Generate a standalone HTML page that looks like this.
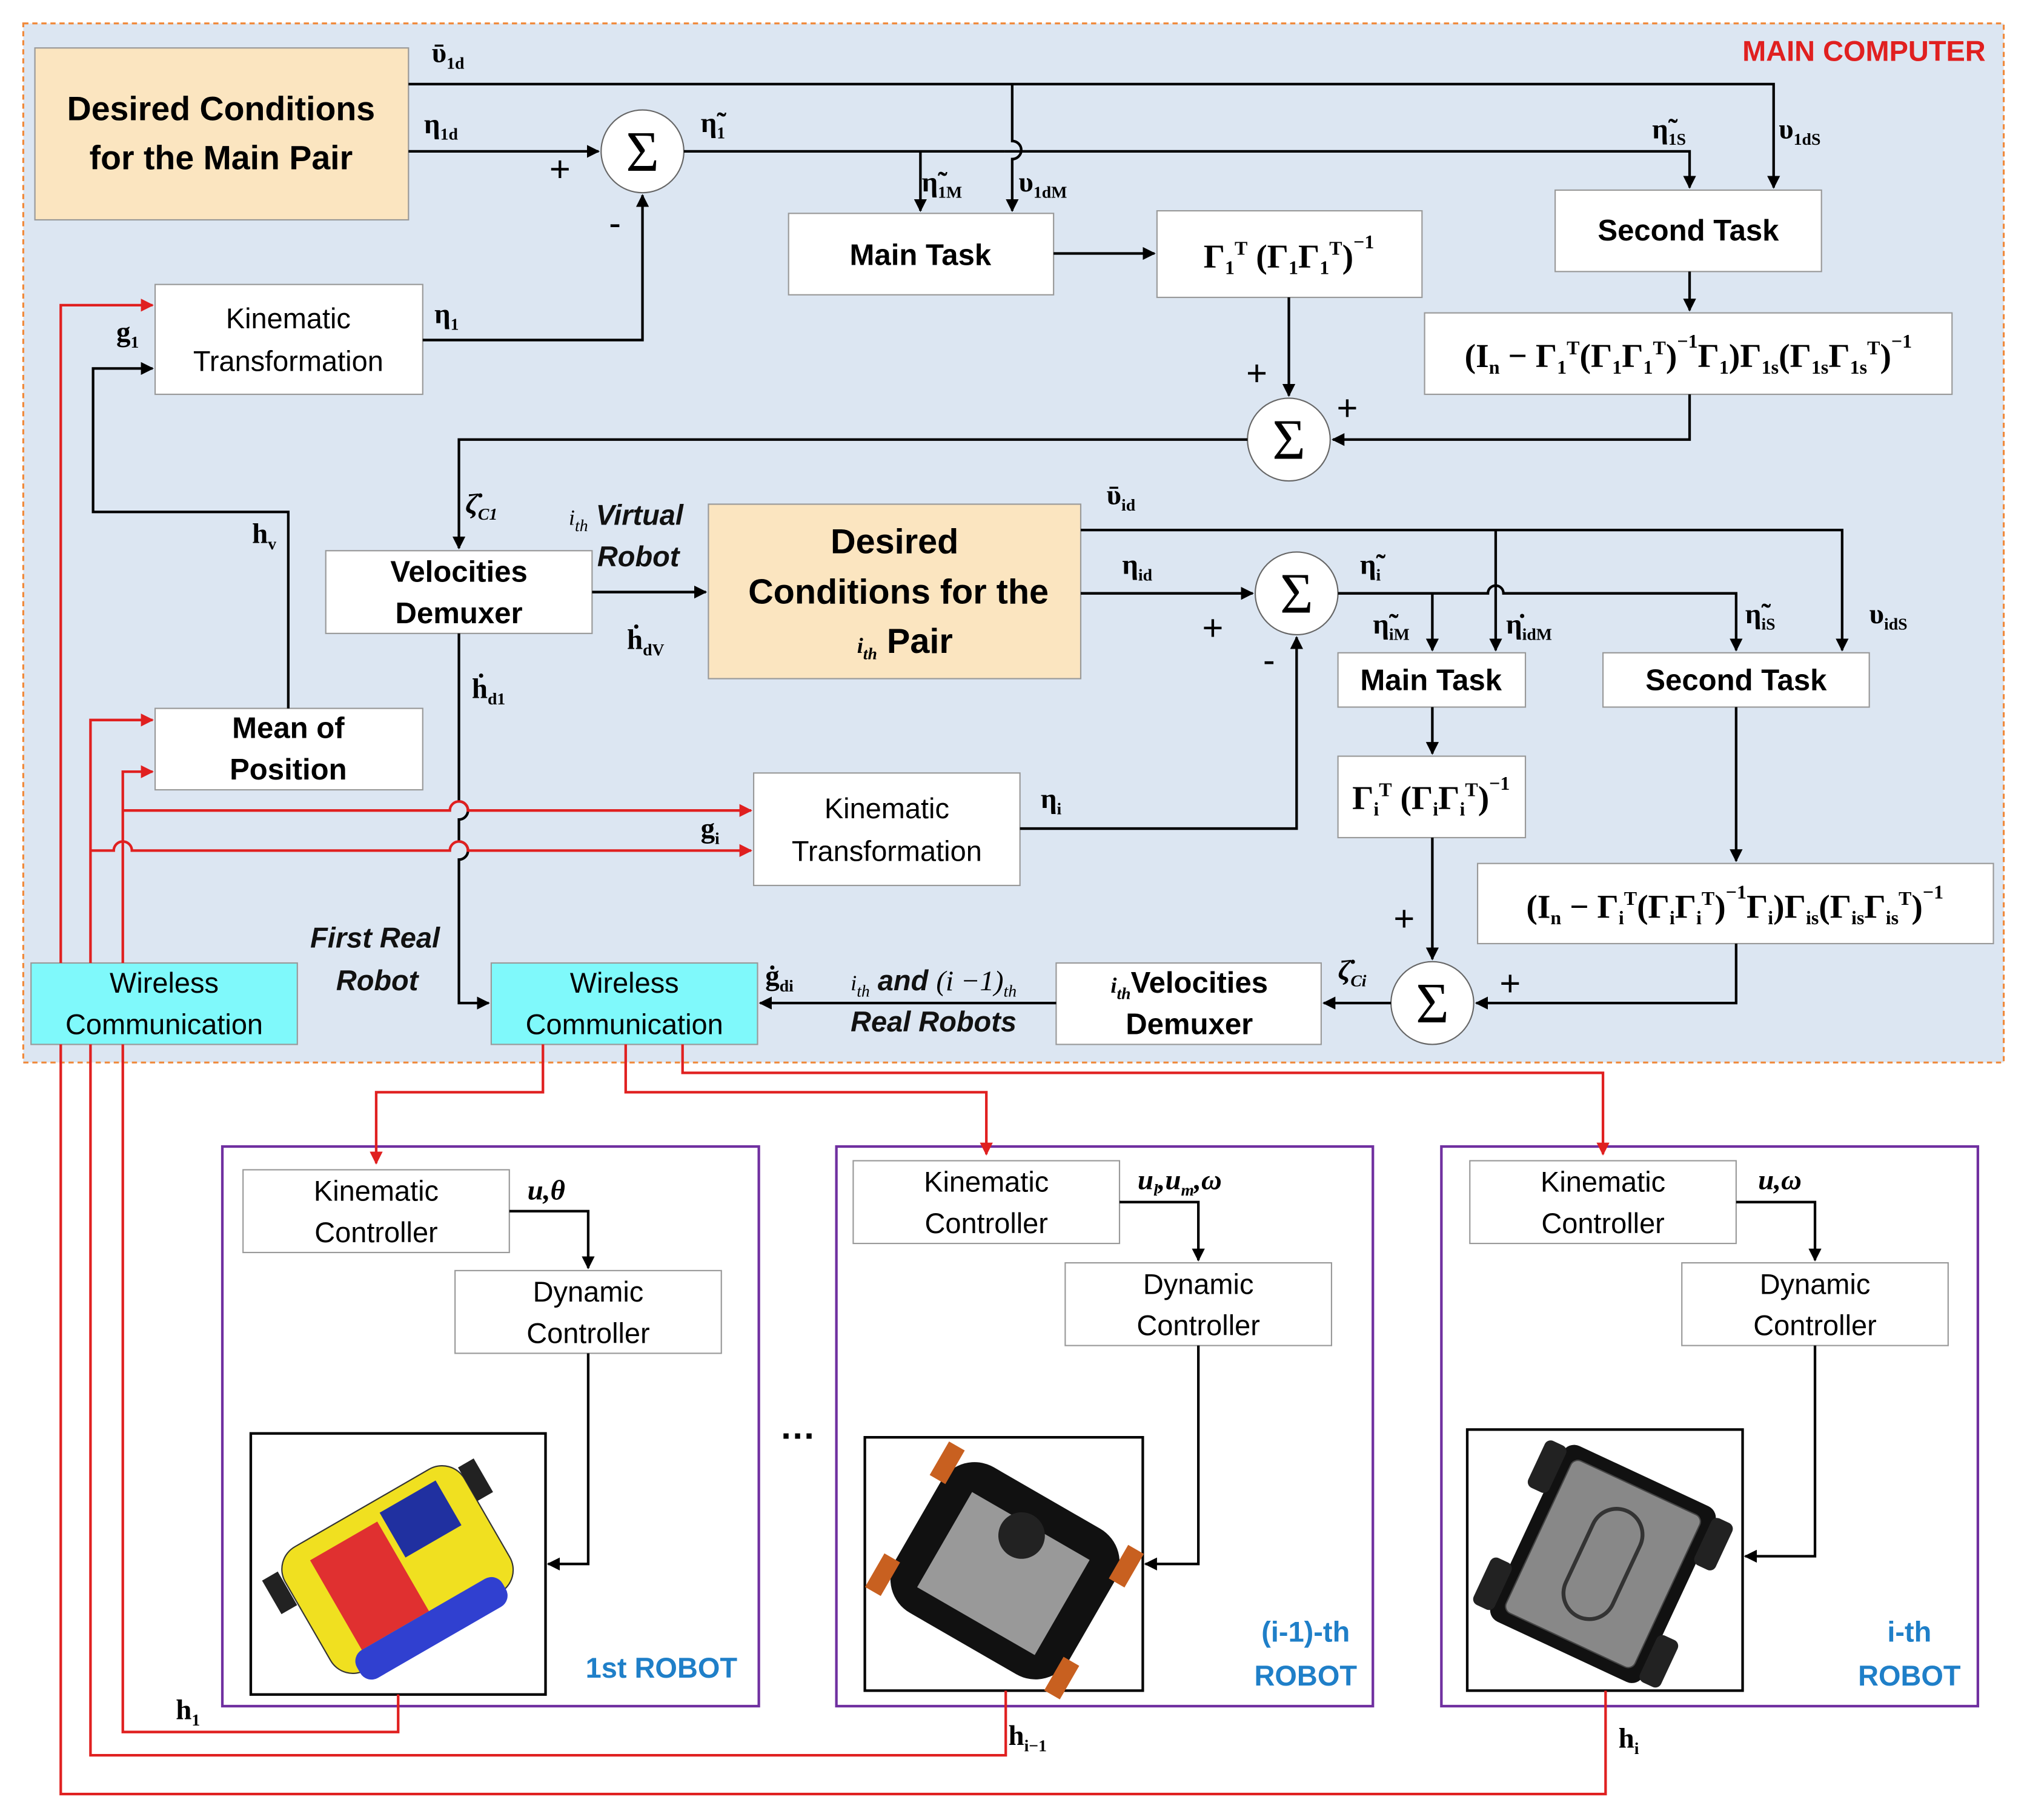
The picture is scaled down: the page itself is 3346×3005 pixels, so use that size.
<!DOCTYPE html>
<html><head><meta charset="utf-8"><style>
html,body{margin:0;padding:0;background:#fff;width:3346px;height:3005px;overflow:hidden}
svg{display:block}
.b{font-family:"Liberation Sans",sans-serif;font-weight:bold;font-size:23px;fill:#000}
.n{font-family:"Liberation Sans",sans-serif;font-size:22px;fill:#000}
.m{font-family:"Liberation Serif",serif;font-weight:bold;font-size:22px;fill:#000}
.f{font-family:"Liberation Serif",serif;font-weight:bold;font-size:26px;fill:#000}
.mi{font-family:"Liberation Serif",serif;font-style:italic;font-size:22px;fill:#000}
.s{font-size:13px}
.f .s{font-size:15px}
.bl{font-family:"Liberation Sans",sans-serif;font-weight:bold;font-size:22px;fill:#1f7fc8}
</style></head><body>
<svg width="3346" height="3005" viewBox="0 0 1568 1408" xmlns="http://www.w3.org/2000/svg">
<defs>
<marker id="a" markerWidth="10" markerHeight="10" refX="9" refY="5" orient="auto" markerUnits="userSpaceOnUse"><path d="M0,0 L10,5 L0,10 z" fill="#000"/></marker>
<marker id="r" markerWidth="10" markerHeight="10" refX="9" refY="5" orient="auto" markerUnits="userSpaceOnUse"><path d="M0,0 L10,5 L0,10 z" fill="#e02020"/></marker>
</defs>
<rect x="18" y="18" width="1532" height="804" fill="#dce6f2" stroke="#f08a3c" stroke-width="1.5" stroke-dasharray="4,3"/>
<text x="1536" y="47" text-anchor="end" style="font-family:'Liberation Sans',sans-serif;font-weight:bold;font-size:22px;fill:#e02020">MAIN COMPUTER</text>

<g stroke="#999" stroke-width="1" fill="#fff">
<rect x="27" y="37" width="289" height="133" fill="#fbe5c0"/>
<rect x="610" y="165" width="205" height="63"/>
<rect x="895" y="163" width="205" height="67"/>
<rect x="1203" y="147" width="206" height="63"/>
<rect x="1102" y="242" width="408" height="63"/>
<rect x="120" y="220" width="207" height="85"/>
<rect x="252" y="426" width="206" height="64"/>
<rect x="548" y="390" width="288" height="135" fill="#fbe5c0"/>
<rect x="1035" y="505" width="145" height="42"/>
<rect x="1240" y="505" width="206" height="42"/>
<rect x="1035" y="585" width="145" height="63"/>
<rect x="1143" y="668" width="399" height="62"/>
<rect x="817" y="745" width="205" height="63"/>
<rect x="380" y="745" width="206" height="63" fill="#7ff9fb"/>
<rect x="24" y="745" width="206" height="63" fill="#7ff9fb"/>
<rect x="120" y="548" width="207" height="63"/>
<rect x="583" y="598" width="206" height="87"/>
<circle cx="497" cy="117" r="32" stroke="#666"/>
<circle cx="997" cy="340" r="32" stroke="#666"/>
<circle cx="1003" cy="459" r="32" stroke="#666"/>
<circle cx="1108" cy="776" r="32" stroke="#666"/>
</g>
<g font-family="Liberation Serif,serif" font-size="44" text-anchor="middle">
<text x="497" y="132">Σ</text><text x="997" y="355">Σ</text><text x="1003" y="474">Σ</text><text x="1108" y="791">Σ</text>
</g>

<g fill="#fff" stroke="#7030a0" stroke-width="2">
<rect x="172" y="887" width="415" height="433"/>
<rect x="647" y="887" width="415" height="433"/>
<rect x="1115" y="887" width="415" height="433"/>
</g>
<g fill="#fff" stroke="#999">
<rect x="188" y="905" width="206" height="64"/><rect x="352" y="983" width="206" height="64"/>
<rect x="660" y="898" width="206" height="64"/><rect x="824" y="977" width="206" height="64"/>
<rect x="1137" y="898" width="206" height="64"/><rect x="1301" y="977" width="206" height="64"/>
</g>
<g fill="#fff" stroke="#000" stroke-width="2">
<rect x="194" y="1109" width="228" height="202"/>
<rect x="669" y="1112" width="215" height="196"/>
<rect x="1135" y="1106" width="213" height="202"/>
</g>
<g transform="rotate(-30 305 1210)">
<rect x="225" y="1160" width="160" height="110" rx="20" fill="#f0e020" stroke="#333"/>
<rect x="250" y="1175" width="60" height="80" fill="#e03030"/>
<rect x="315" y="1170" width="50" height="40" fill="#2030a0"/>
<rect x="240" y="1255" width="130" height="25" rx="10" fill="#3040d0"/>
<rect x="210" y="1170" width="14" height="30" fill="#222"/><rect x="385" y="1170" width="14" height="30" fill="#222"/>
</g>
<g transform="rotate(30 777 1215)">
<rect x="700" y="1150" width="155" height="130" rx="30" fill="#111"/>
<rect x="725" y="1175" width="105" height="85" fill="#999"/>
<circle cx="775" cy="1185" r="18" fill="#222"/>
<rect x="690" y="1150" width="14" height="30" fill="#c86020"/><rect x="850" y="1150" width="14" height="30" fill="#c86020"/>
<rect x="690" y="1250" width="14" height="30" fill="#c86020"/><rect x="850" y="1250" width="14" height="30" fill="#c86020"/>
</g>
<g transform="rotate(25 1240 1210)">
<rect x="1175" y="1135" width="130" height="150" rx="10" fill="#111"/>
<rect x="1185" y="1145" width="110" height="130" rx="6" fill="#888" stroke="#444"/>
<rect x="1220" y="1165" width="40" height="90" rx="20" fill="none" stroke="#333" stroke-width="3"/>
<rect x="1160" y="1140" width="18" height="40" rx="5" fill="#222"/><rect x="1302" y="1140" width="18" height="40" rx="5" fill="#222"/>
<rect x="1160" y="1240" width="18" height="40" rx="5" fill="#222"/><rect x="1302" y="1240" width="18" height="40" rx="5" fill="#222"/>
</g>

<g stroke="#000" stroke-width="2" fill="none">
<path d="M316 65 H1372 V145" marker-end="url(#a)"/>
<path d="M783 65 V109 a6 6 0 0 1 0 14 V163" marker-end="url(#a)"/>
<path d="M316 117 H463" marker-end="url(#a)"/>
<path d="M529 117 H777 M789 117 H1307 V145" marker-end="url(#a)"/>
<path d="M777 117 h12"/>
<path d="M712 117 V163" marker-end="url(#a)"/>
<path d="M815 196 H893" marker-end="url(#a)"/>
<path d="M997 230 V306" marker-end="url(#a)"/>
<path d="M1307 210 V240" marker-end="url(#a)"/>
<path d="M1307 305 V340 H1031" marker-end="url(#a)"/>
<path d="M965 340 H355 V424" marker-end="url(#a)"/>
<path d="M327 263 H497 V151" marker-end="url(#a)"/>
<path d="M223 548 V396 H72 V285 H118" marker-end="url(#a)"/>
<path d="M458 458 H546" marker-end="url(#a)"/>
<path d="M355 490 V620 a7 7 0 0 1 0 14 V651 a7 7 0 0 1 0 14 V776 H378" marker-end="url(#a)"/>
<path d="M836 410 H1425 V503" marker-end="url(#a)"/>
<path d="M1157 410 V503" marker-end="url(#a)"/>
<path d="M836 459 H969" marker-end="url(#a)"/>
<path d="M1035 459 H1151 a6 6 0 0 1 12 0 H1343 V503" marker-end="url(#a)"/>
<path d="M1108 459 V503" marker-end="url(#a)"/>
<path d="M1108 547 V583" marker-end="url(#a)"/>
<path d="M1108 648 V742" marker-end="url(#a)"/>
<path d="M1343 547 V666" marker-end="url(#a)"/>
<path d="M1343 730 V776 H1142" marker-end="url(#a)"/>
<path d="M1076 776 H1024" marker-end="url(#a)"/>
<path d="M817 776 H588" marker-end="url(#a)"/>
<path d="M789 641 H1003 V493" marker-end="url(#a)"/>
<path d="M394 937 H455 V981" marker-end="url(#a)"/>
<path d="M455 1047 V1210 H424" marker-end="url(#a)"/>
<path d="M866 930 H927 V975" marker-end="url(#a)"/>
<path d="M927 1041 V1210 H886" marker-end="url(#a)"/>
<path d="M1343 930 H1404 V975" marker-end="url(#a)"/>
<path d="M1404 1041 V1204 H1350" marker-end="url(#a)"/>
</g>
<g stroke="#e02020" stroke-width="2" fill="none">
<path d="M47 745 V236 H118" marker-end="url(#r)"/>
<path d="M70 745 V557 H118" marker-end="url(#r)"/>
<path d="M95 745 V597 H118" marker-end="url(#r)"/>
<path d="M95 627 H348 a7 7 0 0 1 14 0 H581" marker-end="url(#r)"/>
<path d="M70 658 H88 a7 7 0 0 1 14 0 H348 a7 7 0 0 1 14 0 H581" marker-end="url(#r)"/>
<path d="M47 808 V1388 H1242 V1308"/>
<path d="M70 808 V1358 H778 V1308"/>
<path d="M95 808 V1340 H308 V1311"/>
<path d="M420 808 V845 H291 V900" marker-end="url(#r)"/>
<path d="M484 808 V845 H763 V893" marker-end="url(#r)"/>
<path d="M528 808 V830 H1240 V893" marker-end="url(#r)"/>
</g>

<g text-anchor="middle">
<text class="b" x="171" y="93" style="font-size:26px">Desired Conditions</text>
<text class="b" x="171" y="131" style="font-size:26px">for the Main Pair</text>
<text class="b" x="712" y="205">Main Task</text>
<text class="b" x="1306" y="186">Second Task</text>
<text class="n" x="223" y="254">Kinematic</text><text class="n" x="223" y="287">Transformation</text>
<text class="b" x="355" y="450">Velocities</text><text class="b" x="355" y="482">Demuxer</text>
<text class="b" x="692" y="428" style="font-size:27px">Desired</text>
<text class="b" x="695" y="467" style="font-size:27px">Conditions for the</text>
<text class="b" x="700" y="505" style="font-size:27px"><tspan class="mi" style="font-size:17px">i<tspan class="s" dy="5">th</tspan></tspan><tspan dy="-5"> Pair</tspan></text>
<text class="b" x="1107" y="534">Main Task</text>
<text class="b" x="1343" y="534">Second Task</text>
<text class="b" x="223" y="571">Mean of</text><text class="b" x="223" y="603">Position</text>
<text class="n" x="686" y="633">Kinematic</text><text class="n" x="686" y="666">Transformation</text>
<text class="n" x="127" y="768">Wireless</text><text class="n" x="127" y="800">Communication</text>
<text class="n" x="483" y="768">Wireless</text><text class="n" x="483" y="800">Communication</text>
<text class="b" x="920" y="768"><tspan class="mi" style="font-size:17px">i<tspan class="s" dy="5">th</tspan></tspan><tspan dy="-5">Velocities</tspan></text>
<text class="b" x="920" y="800">Demuxer</text>
<text class="n" x="291" y="929">Kinematic</text><text class="n" x="291" y="961">Controller</text>
<text class="n" x="455" y="1007">Dynamic</text><text class="n" x="455" y="1039">Controller</text>
<text class="n" x="763" y="922">Kinematic</text><text class="n" x="763" y="954">Controller</text>
<text class="n" x="927" y="1001">Dynamic</text><text class="n" x="927" y="1033">Controller</text>
<text class="n" x="1240" y="922">Kinematic</text><text class="n" x="1240" y="954">Controller</text>
<text class="n" x="1404" y="1001">Dynamic</text><text class="n" x="1404" y="1033">Controller</text>
<text class="f" x="997" y="207">Γ<tspan class="s" dy="5">1</tspan><tspan class="s" dy="-15">T</tspan><tspan dy="10"> (Γ</tspan><tspan class="s" dy="5">1</tspan><tspan dy="-5">Γ</tspan><tspan class="s" dy="5">1</tspan><tspan class="s" dy="-15">T</tspan><tspan dy="10">)</tspan><tspan class="s" dy="-15">−1</tspan></text>
<text class="f" x="1306" y="284">(I<tspan class="s" dy="5">n</tspan><tspan dy="-5"> − Γ</tspan><tspan class="s" dy="5">1</tspan><tspan class="s" dy="-15">T</tspan><tspan dy="10">(Γ</tspan><tspan class="s" dy="5">1</tspan><tspan dy="-5">Γ</tspan><tspan class="s" dy="5">1</tspan><tspan class="s" dy="-15">T</tspan><tspan dy="10">)</tspan><tspan class="s" dy="-15">−1</tspan><tspan dy="15">Γ</tspan><tspan class="s" dy="5">1</tspan><tspan dy="-5">)Γ</tspan><tspan class="s" dy="5">1s</tspan><tspan dy="-5">(Γ</tspan><tspan class="s" dy="5">1s</tspan><tspan dy="-5">Γ</tspan><tspan class="s" dy="5">1s</tspan><tspan class="s" dy="-15">T</tspan><tspan dy="10">)</tspan><tspan class="s" dy="-15">−1</tspan></text>
<text class="f" x="1107" y="626">Γ<tspan class="s" dy="5">i</tspan><tspan class="s" dy="-15">T</tspan><tspan dy="10"> (Γ</tspan><tspan class="s" dy="5">i</tspan><tspan dy="-5">Γ</tspan><tspan class="s" dy="5">i</tspan><tspan class="s" dy="-15">T</tspan><tspan dy="10">)</tspan><tspan class="s" dy="-15">−1</tspan></text>
<text class="f" x="1342" y="710">(I<tspan class="s" dy="5">n</tspan><tspan dy="-5"> − Γ</tspan><tspan class="s" dy="5">i</tspan><tspan class="s" dy="-15">T</tspan><tspan dy="10">(Γ</tspan><tspan class="s" dy="5">i</tspan><tspan dy="-5">Γ</tspan><tspan class="s" dy="5">i</tspan><tspan class="s" dy="-15">T</tspan><tspan dy="10">)</tspan><tspan class="s" dy="-15">−1</tspan><tspan dy="15">Γ</tspan><tspan class="s" dy="5">i</tspan><tspan dy="-5">)Γ</tspan><tspan class="s" dy="5">is</tspan><tspan dy="-5">(Γ</tspan><tspan class="s" dy="5">is</tspan><tspan dy="-5">Γ</tspan><tspan class="s" dy="5">is</tspan><tspan class="s" dy="-15">T</tspan><tspan dy="10">)</tspan><tspan class="s" dy="-15">−1</tspan></text>
</g>

<g class="m">
<text x="334" y="48" class="m">ῡ<tspan class="s" dy="5">1d</tspan></text>
<text x="328" y="103" class="m">η<tspan class="s" dy="5">1d</tspan></text>
<text x="542" y="102" class="m">η̃<tspan class="s" dy="5">1</tspan></text>
<text x="713" y="148" class="m">η̃<tspan class="s" dy="5">1M</tspan></text>
<text x="788" y="148" class="m">υ<tspan class="s" dy="5">1dM</tspan></text>
<text x="1278" y="107" class="m">η̃<tspan class="s" dy="5">1S</tspan></text>
<text x="1376" y="107" class="m">υ<tspan class="s" dy="5">1dS</tspan></text>
<text x="336" y="250" class="m">η<tspan class="s" dy="5">1</tspan></text>
<text x="90" y="264" class="m">g<tspan class="s" dy="5">1</tspan></text>
<text x="195" y="420" class="m">h<tspan class="s" dy="5">v</tspan></text>
<text x="360" y="397" class="mi">ζ̇<tspan class="s" dy="5">C1</tspan></text>
<text x="856" y="390" class="m">ῡ<tspan class="s" dy="5">id</tspan></text>
<text x="868" y="444" class="m">η<tspan class="s" dy="5">id</tspan></text>
<text x="1052" y="444" class="m">η̃<tspan class="s" dy="5">i</tspan></text>
<text x="1062" y="490" class="m">η̃<tspan class="s" dy="5">iM</tspan></text>
<text x="1165" y="490" class="m">η̇<tspan class="s" dy="5">idM</tspan></text>
<text x="1350" y="482" class="m">η̃<tspan class="s" dy="5">iS</tspan></text>
<text x="1446" y="482" class="m">υ<tspan class="s" dy="5">idS</tspan></text>
<text x="485" y="502" class="m">ḣ<tspan class="s" dy="5">dV</tspan></text>
<text x="365" y="540" class="m">ḣ<tspan class="s" dy="5">d1</tspan></text>
<text x="805" y="625" class="m">η<tspan class="s" dy="5">i</tspan></text>
<text x="542" y="648" class="m">g<tspan class="s" dy="5">i</tspan></text>
<text x="592" y="762" class="m">ġ<tspan class="s" dy="5">di</tspan></text>
<text x="1035" y="758" class="mi">ζ̇<tspan class="s" dy="5">Ci</tspan></text>
<text x="136" y="1330" class="m">h<tspan class="s" dy="5">1</tspan></text>
<text x="780" y="1350" class="m">h<tspan class="s" dy="5">i−1</tspan></text>
<text x="1252" y="1352" class="m">h<tspan class="s" dy="5">i</tspan></text>
<text x="408" y="928" class="mi">u,θ</text>
<text x="880" y="920" class="mi">u<tspan class="s" dy="5">l</tspan><tspan dy="-5">,u</tspan><tspan class="s" dy="5">m</tspan><tspan dy="-5">,ω</tspan></text>
<text x="1360" y="920" class="mi">u,ω</text>
</g>
<g style="font-family:'Liberation Sans',sans-serif;font-size:28px" fill="#000">
<text x="425" y="140">+</text><text x="471" y="182">-</text>
<text x="964" y="298">+</text><text x="1034" y="325">+</text>
<text x="930" y="495">+</text><text x="977" y="520">-</text>
<text x="1078" y="720">+</text><text x="1160" y="770">+</text>
</g>
<g style="font-family:'Liberation Sans',sans-serif;font-weight:bold;font-style:italic;font-size:22px" fill="#111">
<text x="440" y="406"><tspan class="mi" style="font-size:17px;font-weight:normal">i<tspan class="s" dy="5">th</tspan></tspan><tspan dy="-5"> Virtual</tspan></text>
<text x="462" y="438">Robot</text>
<text x="240" y="733">First Real</text>
<text x="260" y="766">Robot</text>
<text x="658" y="766"><tspan class="mi" style="font-size:17px;font-weight:normal">i<tspan class="s" dy="5">th</tspan></tspan><tspan dy="-5"> and </tspan><tspan class="mi" style="font-weight:normal">(i −1)</tspan><tspan class="mi s" style="font-weight:normal" dy="5">th</tspan></text>
<text x="658" y="798">Real Robots</text>
</g>
<text x="603" y="1113" style="font-family:'Liberation Sans',sans-serif;font-weight:bold;font-size:28px">…</text>
<text class="bl" x="453" y="1298">1st ROBOT</text>
<text class="bl" x="1010" y="1270" text-anchor="middle">(i-1)-th</text>
<text class="bl" x="1010" y="1304" text-anchor="middle">ROBOT</text>
<text class="bl" x="1477" y="1270" text-anchor="middle">i-th</text>
<text class="bl" x="1477" y="1304" text-anchor="middle">ROBOT</text>
</svg>
</body></html>
